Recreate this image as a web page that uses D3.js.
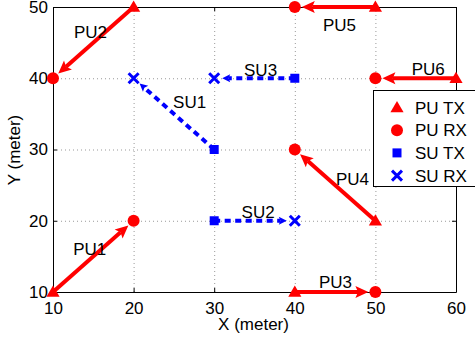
<!DOCTYPE html>
<html>
<head>
<meta charset="utf-8">
<script src="https://cdn.jsdelivr.net/npm/d3@7"></script>
<style>
  body { margin: 0; background: #fff; }
  svg { display: block; font-family: "Liberation Sans", Arial, sans-serif; }
</style>
</head>
<body>
<svg id="chart" width="475" height="341"></svg>
<script>
// primary user links (TX -> RX), meters
const puNames = ["PU1", "PU2", "PU3", "PU4", "PU5", "PU6"];
const puTxX = [10, 20, 40, 50, 50, 60];
const puTxY = [10, 50, 10, 20, 50, 40];
const puRxX = [20, 10, 50, 40, 40, 50];
const puRxY = [20, 40, 10, 30, 50, 40];
const puLabelX = [12.5, 12.6, 43.0, 45.1, 43.5, 54.5];
const puLabelY = [16.0, 46.5, 11.4, 25.9, 47.5, 41.3];

// secondary user links
const suNames = ["SU1", "SU2", "SU3"];
const suTxX = [30, 30, 40];
const suTxY = [30, 20, 40];
const suRxX = [20, 40, 30];
const suRxY = [40, 20, 40];
const suLabelX = [24.9, 33.4, 33.7];
const suLabelY = [36.7, 21.2, 41.2];

const xTicks = [10, 20, 30, 40, 50, 60];
const yTicks = [10, 20, 30, 40, 50];
const legendLabels = ["PU TX", "PU RX", "SU TX", "SU RX"];

const RED = "#ff0000", BLUE = "#0000ff";
const FS = 17;

const svg = d3.select("#chart");
const x = d3.scaleLinear().domain([10, 60]).range([53, 456]);
const y = d3.scaleLinear().domain([10, 50]).range([292, 7]);

// grid
const grid = svg.append("g")
  .attr("stroke", "#999").attr("stroke-width", 1).attr("stroke-dasharray", "1,3");
grid.selectAll(".gx").data(xTicks.slice(1, -1)).join("line")
  .attr("x1", d => x(d) + 0.5).attr("x2", d => x(d) + 0.5)
  .attr("y1", y(50)).attr("y2", y(10));
grid.selectAll(".gy").data(yTicks.slice(1, -1)).join("line")
  .attr("y1", d => y(d) + 0.5).attr("y2", d => y(d) + 0.5)
  .attr("x1", x(10)).attr("x2", x(60));

// axes (MATLAB box with inner ticks)
const xAxis = svg.append("g").attr("transform", `translate(0,${y(10)})`)
  .call(d3.axisBottom(x).tickValues(xTicks).tickSize(-4).tickPadding(10).tickSizeOuter(0));
const xAxisTop = svg.append("g").attr("transform", `translate(0,${y(50)})`)
  .call(d3.axisTop(x).tickValues(xTicks).tickSize(-4).tickFormat("").tickSizeOuter(0));
const yAxis = svg.append("g").attr("transform", `translate(${x(10)},0)`)
  .call(d3.axisLeft(y).tickValues(yTicks).tickSize(-4).tickPadding(5).tickSizeOuter(0));
const yAxisR = svg.append("g").attr("transform", `translate(${x(60)},0)`)
  .call(d3.axisRight(y).tickValues(yTicks).tickSize(-4).tickFormat("").tickSizeOuter(0));
[xAxis, xAxisTop, yAxis, yAxisR].forEach(a => {
  a.select(".domain").attr("stroke", "#000");
  a.selectAll(".tick line").attr("stroke", "#000");
  a.selectAll("text").attr("font-size", FS).attr("font-family", "Liberation Sans, Arial, sans-serif").attr("fill", "#000");
});
xAxis.selectAll("text").attr("dy", "0.71em");

// axis titles
svg.append("text").attr("x", 253.5).attr("y", 330).attr("text-anchor", "middle")
  .attr("font-size", FS).text("X (meter)");
svg.append("text").attr("transform", "translate(20,150) rotate(-90)").attr("text-anchor", "middle")
  .attr("font-size", FS).text("Y (meter)");

// arrow helper: line from TX to just before RX, with a filled head
function arrow(g, x1, y1, x2, y2, o) {
  const dx = x2 - x1, dy = y2 - y1, len = Math.hypot(dx, dy);
  const ux = dx / len, uy = dy / len, px = -uy, py = ux;
  const tx = x2 - ux * o.gap, ty = y2 - uy * o.gap;
  const bx = tx - ux * o.head, by = ty - uy * o.head;
  const nx = tx - ux * o.head * 0.8, ny = ty - uy * o.head * 0.8;
  g.append("line").attr("x1", x1).attr("y1", y1)
    .attr("x2", nx).attr("y2", ny)
    .attr("stroke", o.color).attr("stroke-width", o.width)
    .attr("stroke-dasharray", o.dash || null);
  g.append("path")
    .attr("d", `M${tx},${ty}L${bx + px * o.hw},${by + py * o.hw}L${nx},${ny}L${bx - px * o.hw},${by - py * o.hw}Z`)
    .attr("fill", o.color);
}

const links = svg.append("g");
puNames.forEach((n, i) => {
  arrow(links, x(puTxX[i]), y(puTxY[i]), x(puRxX[i]), y(puRxY[i]),
    { gap: 7, head: 13, hw: 6, color: RED, width: 4 });
});
suNames.forEach((n, i) => {
  arrow(links, x(suTxX[i]), y(suTxY[i]), x(suRxX[i]), y(suRxY[i]),
    { gap: 8, head: 8, hw: 4, color: BLUE, width: 4, dash: "6,4.5" });
});

// markers
const tri = d3.symbol().type(d3.symbolTriangle).size(75);
function drawMarker(g, kind, cx, cy) {
  if (kind === 0) {
    g.append("path").attr("d", tri()).attr("transform", `translate(${cx},${cy + 1})`).attr("fill", RED);
  } else if (kind === 1) {
    g.append("circle").attr("cx", cx).attr("cy", cy).attr("r", 6).attr("fill", RED);
  } else if (kind === 2) {
    g.append("rect").attr("x", cx - 4.5).attr("y", cy - 4.5).attr("width", 9).attr("height", 9).attr("fill", BLUE);
  } else {
    g.append("path").attr("d", `M${cx - 5},${cy - 5}L${cx + 5},${cy + 5}M${cx - 5},${cy + 5}L${cx + 5},${cy - 5}`)
      .attr("stroke", BLUE).attr("stroke-width", 3);
  }
}
const marks = svg.append("g");
puNames.forEach((n, i) => {
  drawMarker(marks, 0, x(puTxX[i]), y(puTxY[i]));
  drawMarker(marks, 1, x(puRxX[i]), y(puRxY[i]));
});
suNames.forEach((n, i) => {
  drawMarker(marks, 2, x(suTxX[i]), y(suTxY[i]));
  drawMarker(marks, 3, x(suRxX[i]), y(suRxY[i]));
});

// link labels
const labels = svg.append("g").attr("font-size", FS).attr("fill", "#000");
puNames.concat(suNames).forEach((n, i) => {
  const lx = i < 6 ? puLabelX[i] : suLabelX[i - 6];
  const ly = i < 6 ? puLabelY[i] : suLabelY[i - 6];
  labels.append("text").attr("x", x(lx)).attr("y", y(ly)).attr("dy", "0.36em").text(n);
});

// legend
const lg = svg.append("g").attr("transform", "translate(373.5,90.5)");
lg.append("rect").attr("width", 120).attr("height", 96)
  .attr("fill", "#fff").attr("stroke", "#000");
legendLabels.forEach((t, i) => {
  const cy = 17 + i * 22.7;
  drawMarker(lg, i, 23.5, cy);
  lg.append("text").attr("x", 41.5).attr("y", cy).attr("dy", "0.36em")
    .attr("font-size", FS).text(t);
});
</script>
</body>
</html>
